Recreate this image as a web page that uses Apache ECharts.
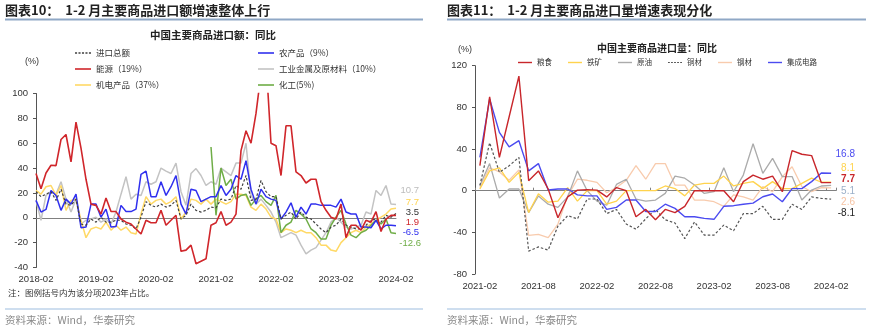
<!DOCTYPE html>
<html><head><meta charset="utf-8">
<script src="https://cdn.jsdelivr.net/npm/echarts@6/dist/echarts.min.js"></script>
<style>html,body{margin:0;padding:0;background:#fff}#c{width:870px;height:328px}</style>
</head><body><div id="c"></div>
<script>
function makeMonths(y, m, n) {
  const out = [];
  for (let k = 0; k < n; k++) {
    out.push(y + '-' + (m < 10 ? '0' + m : '' + m));
    m++; if (m > 12) { m = 1; y++; }
  }
  return out;
}
// Left chart: 2018-02 .. 2024-02
const monthsL = makeMonths(2018, 2, 73);
const totalL = [21,17,19,21,14,23,11,10,15,-5,-6,-1,-3.5,0.5,-3.5,-3.5,-2,-2,-5,-6,-9,0.5,13,10,8.6,11,8.6,10,14,-1,2,11,6,4.6,6,8.6,8,
  15,14,15,26,23,34,14,15,30,21,17,17,-1,2,4.6,-1,4.6,0.5,-1,-5,-9,-12,-7.5,-6,-1,-6,-7.5,-9,-9,-6,-2,-1,-3.5,2,0.5,3.5];
const energyL = [35.6,23.4,36,42.3,42,63,67,45,77,56,31,11,10,3,16,5,5,-1,-3.5,-5,-9,-13,-2,-4,-4,6,-6,-2,2,-27,-26,-22,-37,-35,-33,-6,-4,
  5,-6,-3.5,3,54,70,60,84,116,127,60,58,34,74,74,37,34,28,31,31,13,6,0.5,-1,11,-16,-6,-6,-10,-2,-3.5,5,-11,-1,2,1.9];
const machL = [22,19,25,26,18,26,6,14,15,-2,-16,-9,-7.5,-9,-3.5,-10,-6,-10,-7.5,-12,-13,3,17,11,14,15,11,13,17,-1,4.6,15,14,11,15,11,15,
  13,11,13,19,19,18,8.6,6,11,7,0.5,-1,-12,-9,-10,-12,-10,-12,-12,-16,-22,-22,-26,-27,-20,-16,-12,-10,-12,-7.5,-5,-2,0.5,3,7,7.7];
const agriL = [14,4.6,6.7,22,18,6,15,11,19,-8,-7.5,11,11,0.5,7,-7.5,-7,10,5,5,7,35,37.5,17,17,29,18,25,34,11,3,23,22,13,15,17,17,
  26,18,23,34,31,46,23,11,23,17,15,14,-1,4.6,12,0.5,8.6,3,11,11,10,10,10,8.6,15,4.6,3,3,-7.5,-7.5,-8,-2,-9,-6,-6,-6.5];
const metalL = [14,-2,18,21,19,29,15,4.6,15,-5,-2,-1,0.5,-3.5,-1,-5,4.6,19,33,15,19,18,29,27,29,40,37.5,35.6,44,21,10,35.6,39.6,34,26,29,27,
  40,37,34,44,44,60,18,11,15,10,4.6,-3.5,-16,-14,-12,-14,-22,-29,-26,-24,-18,-12,-3.5,0.5,-3.5,-7.5,-9,-7.5,-6,4.6,3,22,18,26,11,10.7];
const chemL = [null,null,null,null,null,null,null,null,null,null,null,null,null,null,null,null,null,null,null,null,null,null,null,null,null,null,null,null,null,null,null,null,null,null,null,57,2,
  40,26,31,15,18,19,10,15,18,13,10,18,-12,-6,-3.5,6,3,-1,-9,-12,-17,-17,-6,0.5,6,-5,-14,-16,-12,-10,-6,-2,-5,-1,-12,-12.6];
const endLabelsL = ['10.7','7.7','3.5','1.9','-6.5','-12.6'];

// Right chart: 2021-02 .. 2024-02
const monthsR = makeMonths(2021, 2, 37);
const grainR = [24,90,32,71,110,9.6,19,1.6,-26,-6,0.5,1,0.5,-6,3,0,-25,-18,-28,-18,-21,-15,0,0,0,0,-10.6,8.7,15,11,14,-1,38.5,35,33.7,7.7,7.7];
const ironR = [1.6,19,22,8,17.6,-21,-3,-11,-10,3,-10,0,0,-13,-10,0,0,0,0,4.5,2,-5,5.4,7,7,14,4.5,7,8.7,2,8.7,2,2,7,12,8.1,8.1];
const oilR = [5,26,-7,1.6,1.6,-21,-5,-13,-16,-6,19,0,-10,-14,6,11,-8,-10,-9,-2.6,14,12,5.4,-2.6,-1,22,-1,15,45,16.7,31,13.5,13.5,-9,0.6,4.5,5.1];
const copperR = [5,46,17.6,24,32,-58,-54,-57,-34,-24,-27,-8,-8,-22,-18,-32,-37,-27,-18,-28,-31,-46,-30,-42.6,-42.6,-33,-38.5,-22,-22,-15,-27.5,-27.5,-13,-18,-6,-7.4,-8.1];
const steelR = [3,22,18,10,20,-43,-42,-45,-32,-5,11,10,8,-2,3,10,24,11,26,26,5.4,5.4,-9,-9,-10.6,-15,-4,-6,-9,4,-1,13.5,23,4,-1,2.9,2.6];
const icR = [32,88,56,42,48,19,26,0.6,1.6,1.6,-4,-5,-5,-18,-16,-9,-9,-20,-20,-13,-17,-25,-25,-26.6,-27.5,-15,-14.4,-13,-12,-5.8,-3.2,-10.6,2,2,8.7,17,16.8];
const endLabelsR = ['16.8','8.1','7.7','5.1','2.6','-8.1'];

const CJK = "'Noto Sans CJK SC', sans-serif";
const NUM = "'Liberation Sans', Arial, sans-serif";
const SOLID_ICON = 'path://M0,0H20V2H0Z';
const DASH_ICON = 'path://M0,0H3V2H0Z M5,0H8V2H5Z M10,0H13V2H10Z M15,0H18V2H15Z M20,0H23V2H20Z';

const chart = echarts.init(document.getElementById('c'), null, {renderer: 'canvas'});

function line(name, data, color, xi, yi, width, dashed, z) {
  return {
    name: name, type: 'line', data: data, xAxisIndex: xi, yAxisIndex: yi,
    symbol: 'none', showSymbol: false, connectNulls: false, clip: true, z: z || 2,
    lineStyle: {color: color, width: width, type: dashed ? [2.5, 2] : 'solid'},
    itemStyle: {color: color}, emphasis: {disabled: true}
  };
}
function legendItem(name, dashed) { return {name: name, icon: dashed ? DASH_ICON : SOLID_ICON}; }

const axisLabelStyle = {fontSize: 9.5, color: '#333', fontFamily: NUM};

const option = {
  animation: false,
  backgroundColor: '#fff',
  legend: [
    {data: [legendItem('进口总额', true), legendItem('能源（19%）'), legendItem('机电产品（37%）')],
     left: 75, top: 47, orient: 'vertical', padding: 0, selectedMode: false,
     itemWidth: 16, itemHeight: 2, itemGap: 4, textStyle: {fontSize: 8.5, lineHeight: 12, color: '#333', fontFamily: CJK}},
    {data: [legendItem('农产品（9%）'), legendItem('工业金属及原材料（10%）'), legendItem('化工(5%)')],
     left: 258, top: 47, orient: 'vertical', padding: 0, selectedMode: false,
     itemWidth: 16, itemHeight: 2, itemGap: 4, textStyle: {fontSize: 8.5, lineHeight: 12, color: '#333', fontFamily: CJK}},
    {data: [legendItem('粮食'), legendItem('铁矿'), legendItem('原油'), legendItem('铜材', true), legendItem('钢材'), legendItem('集成电路')],
     left: 518, top: 57, orient: 'horizontal', padding: 0, selectedMode: false,
     itemWidth: 14, itemHeight: 2, itemGap: 16, textStyle: {fontSize: 7.5, lineHeight: 11, color: '#333', fontFamily: CJK}}
  ],
  grid: [
    {left: 36, right: 474, top: 93.5, bottom: 60.5},
    {left: 475, right: 34, top: 65.7, bottom: 54}
  ],
  xAxis: [
    {gridIndex: 0, type: 'category', data: monthsL, boundaryGap: false,
     axisLine: {show: false, onZero: false}, axisTick: {show: false},
     axisLabel: Object.assign({interval: 11, margin: 7}, axisLabelStyle)},
    {gridIndex: 0, type: 'category', data: monthsL, boundaryGap: false,
     axisLine: {show: true, onZero: true, lineStyle: {color: '#808080', width: 1}},
     axisTick: {show: false}, axisLabel: {show: false}},
    {gridIndex: 1, type: 'category', data: monthsR, boundaryGap: true,
     axisLine: {show: false, onZero: false}, axisTick: {show: false},
     axisLabel: Object.assign({interval: 5, margin: 7}, axisLabelStyle)},
    {gridIndex: 1, type: 'category', data: monthsR, boundaryGap: true,
     axisLine: {show: true, onZero: true, lineStyle: {color: '#808080', width: 1}},
     axisTick: {show: true, interval: 5, length: 3, lineStyle: {color: '#808080'}}, axisLabel: {show: false}}
  ],
  yAxis: [
    {gridIndex: 0, type: 'value', min: -40, max: 100, interval: 20,
     axisLine: {show: true, lineStyle: {color: '#555', width: 1}},
     axisTick: {show: true, length: 3, lineStyle: {color: '#555'}},
     splitLine: {show: false}, axisLabel: Object.assign({margin: 8}, axisLabelStyle)},
    {gridIndex: 1, type: 'value', min: -80, max: 120, interval: 40,
     axisLine: {show: true, lineStyle: {color: '#555', width: 1}},
     axisTick: {show: true, length: 3, lineStyle: {color: '#555'}},
     splitLine: {show: false}, axisLabel: Object.assign({margin: 8}, axisLabelStyle)}
  ],
  series: [
    line('工业金属及原材料（10%）', metalL, '#C3C3C3', 0, 0, 1.5, false, 2),
    line('机电产品（37%）', machL, '#FFD966', 0, 0, 1.5, false, 3),
    line('化工(5%)', chemL, '#6FAD47', 0, 0, 1.5, false, 4),
    line('农产品（9%）', agriL, '#3030EE', 0, 0, 1.5, false, 5),
    line('进口总额', totalL, '#404040', 0, 0, 1.2, true, 6),
    line('能源（19%）', energyL, '#D0262B', 0, 0, 1.6, false, 7),

    line('钢材', steelR, '#F8CBAD', 2, 1, 1.3, false, 2),
    line('原油', oilR, '#ABABAB', 2, 1, 1.3, false, 3),
    line('铁矿', ironR, '#FFD34D', 2, 1, 1.3, false, 4),
    line('铜材', copperR, '#555555', 2, 1, 1.2, true, 5),
    line('集成电路', icR, '#4B4BF0', 2, 1, 1.4, false, 6),
    line('粮食', grainR, '#C8262B', 2, 1, 1.4, false, 7)
  ],
  graphic: [
    {type: 'text', x: 5, y: 10, style: {text: '图表10：  1-2 月主要商品进口额增速整体上行', fill: '#222', font: 'bold 13px ' + CJK, textVerticalAlign: 'middle'}},
    {type: 'text', x: 447, y: 10, style: {text: '图表11：  1-2 月主要商品进口量增速表现分化', fill: '#222', font: 'bold 13px ' + CJK, textVerticalAlign: 'middle'}},
    {type: 'line', shape: {x1: 5, y1: 19.5, x2: 423, y2: 19.5}, style: {stroke: '#8FA8C6', lineWidth: 2}},
    {type: 'line', shape: {x1: 447, y1: 19.5, x2: 866, y2: 19.5}, style: {stroke: '#8FA8C6', lineWidth: 2}},
    {type: 'text', x: 213, y: 35, style: {text: '中国主要商品进口额：同比', fill: '#222', font: 'bold 10.5px ' + CJK, textAlign: 'center', textVerticalAlign: 'middle'}},
    {type: 'text', x: 657, y: 48, style: {text: '中国主要商品进口量：同比', fill: '#222', font: 'bold 10px ' + CJK, textAlign: 'center', textVerticalAlign: 'middle'}},
    {type: 'text', x: 32, y: 62, style: {text: '(%)', fill: '#333', font: '9px ' + NUM, textAlign: 'center', textVerticalAlign: 'middle'}},
    {type: 'text', x: 465, y: 50, style: {text: '(%)', fill: '#333', font: '9px ' + NUM, textAlign: 'center', textVerticalAlign: 'middle'}},
    {type: 'text', x: 419, y: 190, style: {text: endLabelsL[0], fill: '#BDBDBD', font: '9.5px ' + NUM, textAlign: 'right', textVerticalAlign: 'middle'}},
    {type: 'text', x: 419, y: 202, style: {text: endLabelsL[1], fill: '#FFD34D', font: '9.5px ' + NUM, textAlign: 'right', textVerticalAlign: 'middle'}},
    {type: 'text', x: 419, y: 212, style: {text: endLabelsL[2], fill: '#333', font: '9.5px ' + NUM, textAlign: 'right', textVerticalAlign: 'middle'}},
    {type: 'text', x: 419, y: 222.5, style: {text: endLabelsL[3], fill: '#D0262B', font: '9.5px ' + NUM, textAlign: 'right', textVerticalAlign: 'middle'}},
    {type: 'text', x: 419, y: 232.5, style: {text: endLabelsL[4], fill: '#3030EE', font: '9.5px ' + NUM, textAlign: 'right', textVerticalAlign: 'middle'}},
    {type: 'text', x: 421, y: 243.5, style: {text: endLabelsL[5], fill: '#6FAD47', font: '9.5px ' + NUM, textAlign: 'right', textVerticalAlign: 'middle'}},
    {type: 'text', x: 855, y: 154, style: {text: endLabelsR[0], fill: '#4B4BF0', font: '10px ' + NUM, textAlign: 'right', textVerticalAlign: 'middle'}},
    {type: 'text', x: 855, y: 168, style: {text: endLabelsR[1], fill: '#FFD34D', font: '10px ' + NUM, textAlign: 'right', textVerticalAlign: 'middle'}},
    {type: 'text', x: 855, y: 179.5, style: {text: endLabelsR[2], fill: '#C8262B', font: 'bold 10px ' + NUM, textAlign: 'right', textVerticalAlign: 'middle'}},
    {type: 'text', x: 855, y: 191.5, style: {text: endLabelsR[3], fill: '#9AAFC8', font: '10px ' + NUM, textAlign: 'right', textVerticalAlign: 'middle'}},
    {type: 'text', x: 855, y: 202.5, style: {text: endLabelsR[4], fill: '#F6C3A3', font: '10px ' + NUM, textAlign: 'right', textVerticalAlign: 'middle'}},
    {type: 'text', x: 855, y: 213.5, style: {text: endLabelsR[5], fill: '#222', font: '10px ' + NUM, textAlign: 'right', textVerticalAlign: 'middle'}},
    {type: 'text', x: 8, y: 292.5, style: {text: '注：图例括号内为该分项2023年占比。', fill: '#333', font: '8.5px ' + CJK, textVerticalAlign: 'middle'}},
    {type: 'line', shape: {x1: 5, y1: 309, x2: 423, y2: 309}, style: {stroke: '#9DBDE0', lineWidth: 1.2}},
    {type: 'line', shape: {x1: 447, y1: 309, x2: 866, y2: 309}, style: {stroke: '#9DBDE0', lineWidth: 1.2}},
    {type: 'text', x: 5, y: 320, style: {text: '资料来源：Wind，华泰研究', fill: '#8A8A8A', font: '10.5px ' + CJK, textVerticalAlign: 'middle'}},
    {type: 'text', x: 447, y: 320, style: {text: '资料来源：Wind，华泰研究', fill: '#8A8A8A', font: '10.5px ' + CJK, textVerticalAlign: 'middle'}}
  ]
};
chart.setOption(option);
</script></body></html>
